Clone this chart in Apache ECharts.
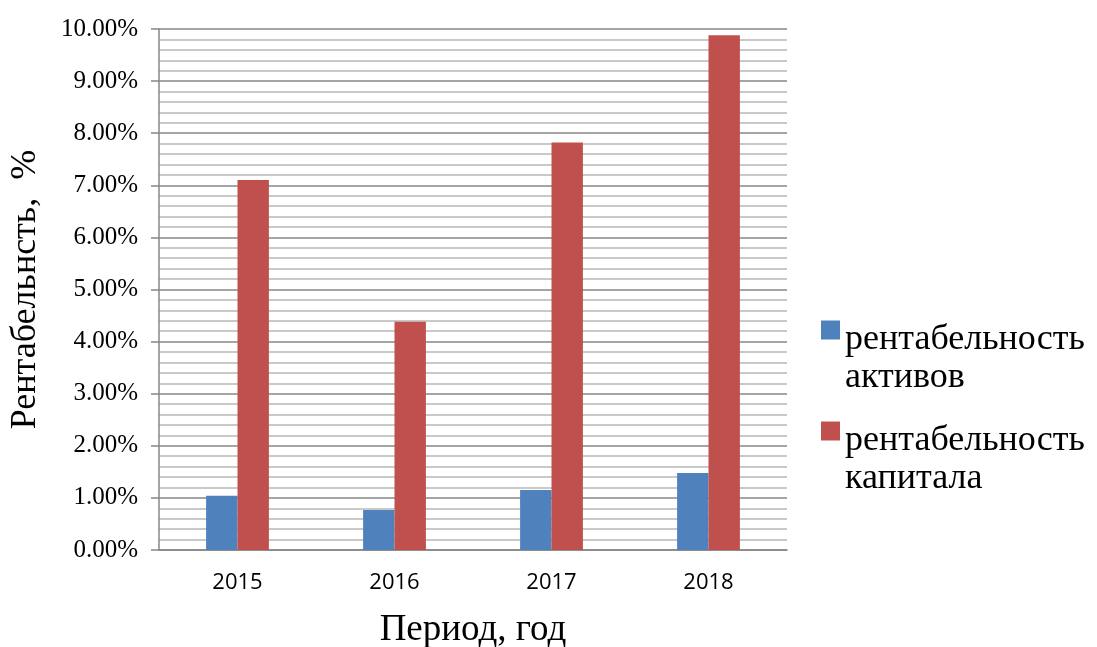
<!DOCTYPE html>
<html>
<head>
<meta charset="utf-8">
<script src="https://cdn.jsdelivr.net/npm/echarts@6/dist/echarts.min.js"></script>
<style>
  html, body { margin: 0; padding: 0; background: #fff; }
  #chart { width: 1097px; height: 647px; }
</style>
</head>
<body>
<div id="chart"></div>
<script>
var years = ['2015', '2016', '2017', '2018']
var seriesNames = ['рентабельность активов', 'рентабельность капитала']
var assetsRoa = [0.0104, 0.0077, 0.0115, 0.0148]
var equityRoe = [0.0710, 0.0438, 0.0782, 0.0988]

var serif = '"Liberation Serif", "DejaVu Serif", serif'

var myChart = echarts.init(document.getElementById('chart'))
myChart.setOption({
  animation: false,
  grid: { left: 159, right: 310, top: 29, bottom: 97, outerBoundsMode: 'none' },
  color: ['#4f81bd', '#c0504d'],
  legend: {
    orient: 'vertical',
    left: 821,
    top: 287,
    padding: 0,
    itemWidth: 19,
    itemHeight: 19,
    itemGap: -8,
    icon: 'rect',
    data: seriesNames,
    // empty first line pushes the marker up to the first text line
    formatter: function (name) {
      var parts = name.split(' ')
      return '{s| }\n{a|' + parts[0] + '}\n{a|' + parts[1] + '}'
    },
    textStyle: {
      fontFamily: serif,
      fontSize: 36,
      color: '#000',
      rich: {
        s: { fontSize: 10, lineHeight: 58 },
        a: { fontFamily: serif, fontSize: 36, lineHeight: 38, color: '#000' }
      }
    }
  },
  xAxis: {
    type: 'category',
    data: years,
    name: 'Период, год',
    nameLocation: 'middle',
    nameGap: 62,
    nameTextStyle: { fontFamily: serif, fontSize: 37, color: '#000' },
    axisLine: { lineStyle: { color: '#878787', width: 1.5 } },
    axisTick: { show: false },
    axisLabel: { fontFamily: '"Open Sans", sans-serif', fontSize: 22, color: '#000', margin: 22 }
  },
  yAxis: {
    type: 'value',
    min: 0,
    max: 0.1,
    interval: 0.01,
    name: 'Рентабельнсть,  %',
    nameLocation: 'middle',
    nameGap: 115,
    nameTextStyle: { fontFamily: serif, fontSize: 36, color: '#000' },
    axisLine: { show: true, lineStyle: { color: '#878787', width: 1.5 } },
    axisTick: { show: true, length: 8, lineStyle: { color: '#878787', width: 1.5 } },
    axisLabel: {
      fontFamily: serif,
      fontSize: 25,
      color: '#000',
      margin: 21,
      formatter: function (v) { return (v * 100).toFixed(2) + '%' }
    },
    splitLine: { lineStyle: { color: '#878787', width: 1.5 } },
    minorTick: { show: false, splitNumber: 5 },
    minorSplitLine: { show: true, lineStyle: { color: '#b8b8b8', width: 1.5 } }
  },
  series: [
    {
      name: seriesNames[0],
      type: 'bar',
      data: assetsRoa,
      barGap: '0%',
      barCategoryGap: '60%'
    },
    {
      name: seriesNames[1],
      type: 'bar',
      data: equityRoe,
      barGap: '0%',
      barCategoryGap: '60%'
    }
  ]
})
</script>
</body>
</html>
